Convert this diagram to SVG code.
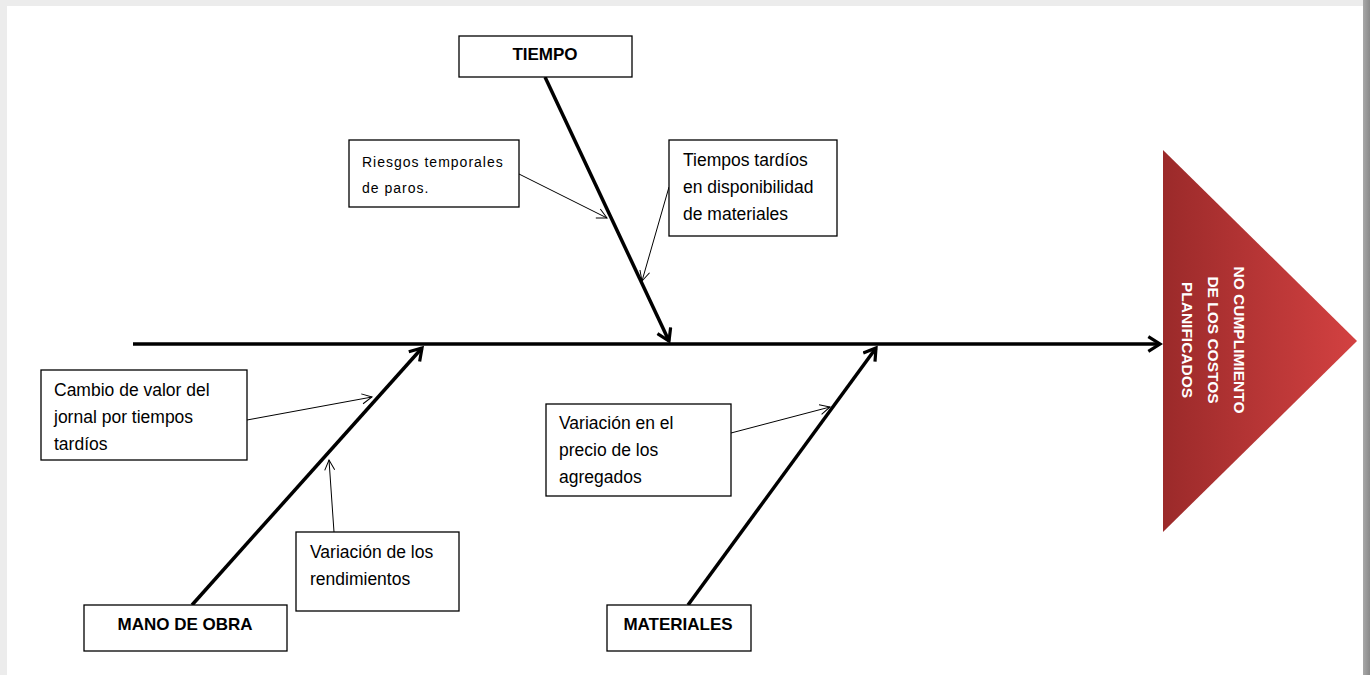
<svg xmlns="http://www.w3.org/2000/svg" width="1370" height="675" viewBox="0 0 1370 675">
<defs>
<linearGradient id="red" x1="0" y1="0" x2="1" y2="0">
<stop offset="0" stop-color="#9b2a2a"/>
<stop offset="1" stop-color="#d34141"/>
</linearGradient>
<linearGradient id="rEdge" x1="0" y1="0" x2="1" y2="0">
<stop offset="0" stop-color="#a8a8a8"/>
<stop offset="1" stop-color="#8a8a8a"/>
</linearGradient>
<marker id="big" viewBox="0 0 12 12" refX="10" refY="6" markerWidth="5" markerHeight="5" orient="auto" markerUnits="strokeWidth">
<path d="M2,1 L10,6 L2,11" fill="none" stroke="#000" stroke-width="2.2" stroke-linejoin="miter"/>
</marker>
<marker id="small" viewBox="0 0 12 12" refX="11" refY="6" markerWidth="12" markerHeight="12" orient="auto" markerUnits="userSpaceOnUse">
<path d="M1,1 L11,6 L1,11" fill="none" stroke="#000" stroke-width="1"/>
</marker>
</defs>
<style>
.box{fill:#fff;stroke:#000;stroke-width:1.3}
.t{font-family:"Liberation Sans",Arial,sans-serif;font-size:17.5px;fill:#000}
.ts{font-family:"Liberation Sans",Arial,sans-serif;font-size:14px;fill:#000;letter-spacing:1px}
.b{font-family:"Liberation Sans",Arial,sans-serif;font-size:17px;font-weight:bold;fill:#000;text-anchor:middle}
.main{stroke:#000;stroke-width:3.5;fill:none;marker-end:url(#big)}
.thin{stroke:#000;stroke-width:1;fill:none;marker-end:url(#small)}
.w{font-family:"Liberation Sans",Arial,sans-serif;font-size:15.5px;font-weight:bold;fill:#fff;text-anchor:middle}
</style>
<rect x="0" y="0" width="1370" height="675" fill="#ececec"/>
<rect x="1363" y="0" width="7" height="675" fill="url(#rEdge)"/>
<rect x="7" y="6" width="1356" height="669" fill="#fff"/>

<g id="connectors">
<line class="main" x1="133" y1="344" x2="1160" y2="344" stroke-width="3"/>
<line class="main" x1="545" y1="77" x2="669" y2="341"/>
<line class="main" x1="192" y1="605" x2="422" y2="348"/>
<line class="main" x1="688" y1="605" x2="876" y2="348"/>
<line class="thin" x1="519" y1="174" x2="607" y2="218"/>
<line class="thin" x1="669" y1="187" x2="642" y2="281"/>
<line class="thin" x1="247" y1="420" x2="372" y2="397"/>
<line class="thin" x1="334" y1="532" x2="329" y2="460"/>
<line class="thin" x1="731" y1="433" x2="830" y2="407"/>
</g>

<g id="effect">
<polygon points="1163,150 1357,341 1163,532" fill="url(#red)"/>
<g transform="translate(1213,340) rotate(90)">
<text class="w" x="0" y="-21">NO CUMPLIMIENTO</text>
<text class="w" x="0" y="5">DE LOS COSTOS</text>
<text class="w" x="0" y="31">PLANIFICADOS</text>
</g>
</g>

<g id="tiempo">
<rect class="box" x="459" y="36" width="173" height="41"/>
<text class="b" x="545" y="60">TIEMPO</text>
</g>
<g id="riesgos">
<rect class="box" x="349" y="140" width="170" height="67"/>
<text class="ts" x="362" y="167">Riesgos temporales</text>
<text class="ts" x="362" y="193">de paros.</text>
</g>
<g id="tiempos-tardios">
<rect class="box" x="669" y="140" width="168" height="96"/>
<text class="t" x="683" y="166">Tiempos tardíos</text>
<text class="t" x="683" y="193">en disponibilidad</text>
<text class="t" x="683" y="220">de materiales</text>
</g>
<g id="mano-de-obra">
<rect class="box" x="84" y="605" width="203" height="46"/>
<text class="b" x="185" y="630">MANO DE OBRA</text>
</g>
<g id="cambio">
<rect class="box" x="41" y="370" width="206" height="90"/>
<text class="t" x="54" y="396">Cambio de valor del</text>
<text class="t" x="54" y="423">jornal por tiempos</text>
<text class="t" x="54" y="450">tardíos</text>
</g>
<g id="rendimientos">
<rect class="box" x="296" y="532" width="163" height="79"/>
<text class="t" x="310" y="558">Variación de los</text>
<text class="t" x="310" y="585">rendimientos</text>
</g>
<g id="materiales">
<rect class="box" x="607" y="605" width="144" height="46"/>
<text class="b" x="678" y="630">MATERIALES</text>
</g>
<g id="precio">
<rect class="box" x="546" y="404" width="185" height="92"/>
<text class="t" x="559" y="429">Variación en el</text>
<text class="t" x="559" y="456">precio de los</text>
<text class="t" x="559" y="483">agregados</text>
</g>
</svg>
